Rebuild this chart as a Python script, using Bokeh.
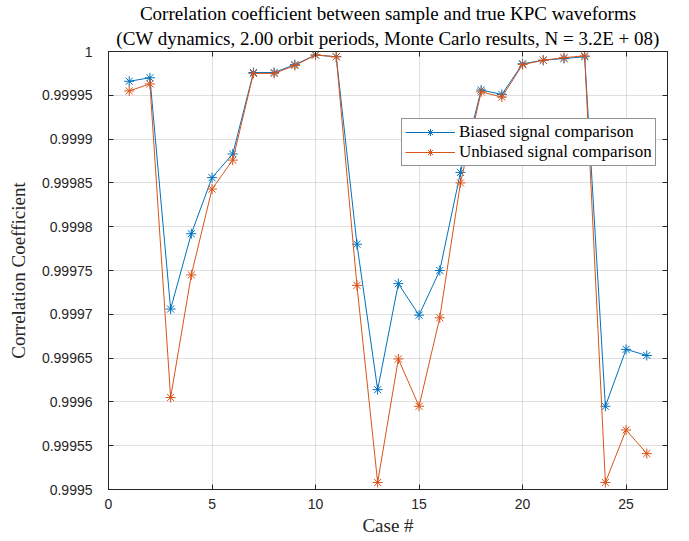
from bokeh.plotting import figure
from bokeh.models import (Title, LinearAxis, FixedTicker, Range1d, Legend, LegendItem,
                          PrintfTickFormatter, CustomJSTickFormatter)
from bokeh.embed import file_html
from bokeh.resources import INLINE

cases = list(range(1, 27))
biased = [0.999966, 0.999970, 0.999706, 0.999792, 0.999856, 0.999883, 0.999976, 0.999976,
          0.999985, 0.999996, 0.999994, 0.999780, 0.999614, 0.999735, 0.999699, 0.999750,
          0.999862, 0.999956, 0.999951, 0.999986, 0.999990, 0.999992, 0.999994, 0.999595,
          0.999660, 0.999653]
unbiased = [0.999955, 0.999963, 0.999605, 0.999745, 0.999843, 0.999876, 0.999975, 0.999975,
            0.999984, 0.999996, 0.999994, 0.999733, 0.999508, 0.999649, 0.999595, 0.999696,
            0.999850, 0.999954, 0.999948, 0.999985, 0.999990, 0.999993, 0.999995, 0.999508,
            0.999568, 0.999541]
x_ticks = [0, 5, 10, 15, 20, 25]
y_ticks = [0.9995, 0.99955, 0.9996, 0.99965, 0.9997, 0.99975, 0.9998, 0.99985, 0.9999, 0.99995, 1.0]
title1 = "Correlation coefficient between sample and true KPC waveforms"
title2 = "(CW dynamics, 2.00 orbit periods, Monte Carlo results, N = 3.2E + 08)"

BLUE = "#0072BD"
ORANGE = "#D95319"
AX = "#262626"
SERIF = "Liberation Serif"
SANS = "Liberation Sans"

p = figure(width=689, height=541, output_backend="svg", toolbar_location=None,
           x_range=Range1d(0, 27), y_range=Range1d(0.9995, 1.0), title=None,
           min_border_left=108, min_border_right=22, min_border_top=51, min_border_bottom=52)
p.background_fill_color = "white"
p.border_fill_color = "white"
p.outline_line_color = AX
p.outline_line_width = 1

def style_axis(ax, show_labels=True):
    ax.axis_line_color = AX
    ax.major_tick_line_color = AX
    ax.minor_tick_line_color = None
    ax.major_tick_in = 5
    ax.major_tick_out = 0
    ax.major_label_text_font = SANS
    ax.major_label_text_font_size = "14px"
    ax.major_label_text_color = AX
    if not show_labels:
        ax.formatter = CustomJSTickFormatter(code="return ''")
        ax.major_label_text_color = None
        ax.major_label_text_font_size = "1px"
        ax.major_label_standoff = 0

p.xaxis.ticker = FixedTicker(ticks=x_ticks)
p.yaxis.ticker = FixedTicker(ticks=y_ticks)
p.yaxis.formatter = PrintfTickFormatter(format="%g")
for ax in p.xaxis + p.yaxis:
    style_axis(ax)
p.xaxis.major_label_standoff = 9
p.yaxis.major_label_standoff = 16

p.xaxis.axis_label = "Case #"
p.yaxis.axis_label = "Correlation Coefficient"
for ax in p.xaxis + p.yaxis:
    ax.axis_label_text_font = SERIF
    ax.axis_label_text_font_style = "normal"
    ax.axis_label_text_color = AX
    ax.axis_label_text_font_size = "19px"
p.xaxis.axis_label_standoff = 3
p.yaxis.axis_label_standoff = 10

right_ax = LinearAxis(ticker=FixedTicker(ticks=y_ticks))
style_axis(right_ax, show_labels=False)
p.add_layout(right_ax, "right")
top_ax = LinearAxis(ticker=FixedTicker(ticks=x_ticks))
style_axis(top_ax, show_labels=False)
p.add_layout(top_ax, "above")

p.add_layout(Title(text=title2, align="center", text_font=SERIF, text_font_size="19px",
                   text_font_style="normal", text_color="black", standoff=5), "above")
p.add_layout(Title(text=title1, align="center", text_font=SERIF, text_font_size="19px",
                   text_font_style="normal", text_color="black", standoff=0), "above")

p.xgrid.grid_line_color = AX
p.xgrid.grid_line_alpha = 0.15
p.ygrid.grid_line_color = AX
p.ygrid.grid_line_alpha = 0.15

r1l = p.line(cases, biased, line_color=BLUE, line_width=1)
r1m = p.scatter(cases, biased, marker="asterisk", size=10, line_color=BLUE, line_width=1)
r2l = p.line(cases, unbiased, line_color=ORANGE, line_width=1)
r2m = p.scatter(cases, unbiased, marker="asterisk", size=10, line_color=ORANGE, line_width=1)

legend = Legend(items=[LegendItem(label="Biased signal comparison", renderers=[r1l, r1m]),
                       LegendItem(label="Unbiased signal comparison", renderers=[r2l, r2m])],
                location=(293, 323))
legend.label_text_font = SERIF
legend.label_text_font_size = "17px"
legend.label_text_color = "black"
legend.border_line_color = AX
legend.border_line_width = 1
legend.background_fill_color = "white"
legend.background_fill_alpha = 1
legend.glyph_width = 50
legend.glyph_height = 18
legend.label_height = 18
legend.label_standoff = 4
legend.spacing = 0
legend.padding = 3
legend.margin = 0
p.add_layout(legend, "center")

open("out.html", "w").write(file_html(p, INLINE))
